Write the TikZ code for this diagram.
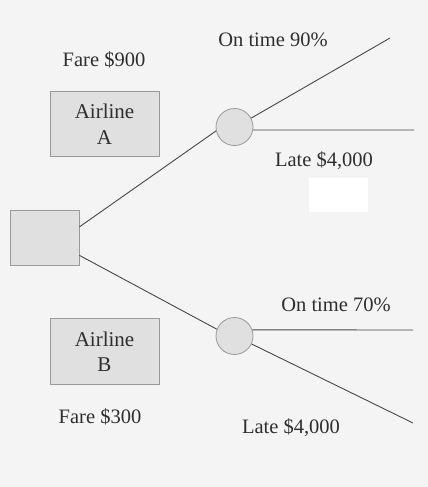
\documentclass[tikz,border=0pt]{standalone}
\usepackage{fontspec}
\setmainfont{Liberation Serif}
\usetikzlibrary{calc}
\begin{document}
\begin{tikzpicture}[x=1pt,y=-1pt,
  bg/.style={fill=bgcol,draw=none},
  box/.style={draw=edgecol,fill=boxcol,line width=0.8pt,rectangle,inner sep=0pt,align=center,text=txtcol,font=\fontsize{21}{25.5}\selectfont},
  chance/.style={draw=edgecol,fill=boxcol,line width=0.8pt,circle,minimum size=37pt,inner sep=0pt},
  lbl/.style={text=txtcol,font=\fontsize{20.5}{24}\selectfont,inner sep=0pt},
  branch/.style={draw=linecol,line width=0.9pt}]
\definecolor{bgcol}{HTML}{F4F4F4}
\definecolor{boxcol}{HTML}{E0E0E0}
\definecolor{edgecol}{HTML}{9A9A9A}
\definecolor{linecol}{HTML}{474747}
\definecolor{txtcol}{HTML}{2E2E2E}
\path[bg] (0,0) rectangle (428,487);
\useasboundingbox (0,0) rectangle (428,487);
\fill[white] (309,178) rectangle (368,212);
% nodes
\node[box,minimum width=69pt,minimum height=55pt] (dec) at (44.5,237.5) {};
\node[box,minimum width=109pt,minimum height=65pt] (boxA) at (104.5,124) {Airline\\A};
\node[box,minimum width=109pt,minimum height=66pt] (boxB) at (104.5,351.5) {Airline\\B};
\node[chance] (cA) at (234.5,127) {};
\node[chance] (cB) at (234.5,336) {};
\coordinate (endA1) at (390,38);
\coordinate (endA2) at (414,130);
\coordinate (endB1) at (413,330);
\coordinate (endB2) at (413,423);
% labels
\node[lbl] (fareA) at (104,60) {Fare \$900};
\node[lbl] (onA) at (273,40) {On time 90\%};
\node[lbl] (lateA) at (324,161) {Late \$4,000};
\node[lbl] (onB) at (336,305) {On time 70\%};
\node[lbl] (fareB) at (100,417) {Fare \$300};
\node[lbl] (lateB) at (291,428) {Late \$4,000};
% connectors
\draw[branch] ($(dec.north east)!0.31!(dec.south east)$) -- (cA.192);
\draw[branch] ($(dec.north east)!0.82!(dec.south east)$) -- (cB.159);
\draw[branch] (cA.28) -- (endA1);
\draw[branch] (cA.-9) -- (endA2);
\draw[branch] (cB.19) -- (endB1);
\draw[branch] (cB.-25) -- (endB2);
\end{tikzpicture}
\end{document}
